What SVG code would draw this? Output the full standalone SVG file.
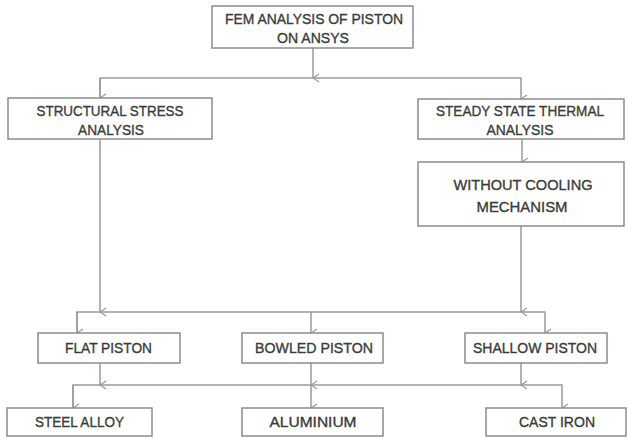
<svg xmlns="http://www.w3.org/2000/svg" width="628" height="438" viewBox="0 0 628 438">
<defs>
<style>
.box{fill:#fff;stroke:#8c8c8c;stroke-width:1.5}
.t{font-family:"Liberation Sans",Arial,sans-serif;font-size:15.5px;fill:#3a3a3a;stroke:#3a3a3a;stroke-width:0.35;text-anchor:middle}
.ln{fill:none;stroke:#9a9a9a;stroke-width:1.5}
</style>
<marker id="ah" viewBox="0 0 10 10" refX="5" refY="9" markerWidth="10" markerHeight="10" markerUnits="userSpaceOnUse" orient="auto-start-reverse">
<path d="M1,3 L5,9 L9,3" fill="none" stroke="#9a9a9a" stroke-width="1.3"/>
</marker>
</defs>
<rect width="628" height="438" fill="#fff"/>
<g id="connectors" class="ln">
<line x1="313" y1="48" x2="313" y2="78" marker-end="url(#ah)"/>
<polyline points="100,98 100,78 521,78 521,99" marker-end="url(#ah)"/>
<line x1="100" y1="78" x2="100" y2="98" marker-end="url(#ah)"/>
<line x1="522" y1="139" x2="522" y2="162" marker-end="url(#ah)"/>
<line x1="100" y1="139" x2="100" y2="312" marker-end="url(#ah)"/>
<line x1="521" y1="226" x2="521" y2="312" marker-end="url(#ah)"/>
<polyline points="77,333 77,312 545,312 545,333" marker-end="url(#ah)"/>
<line x1="77" y1="312" x2="77" y2="333" marker-end="url(#ah)"/>
<line x1="311" y1="312" x2="311" y2="333" marker-end="url(#ah)"/>
<line x1="100" y1="363" x2="100" y2="385" marker-end="url(#ah)"/>
<line x1="311" y1="363" x2="311" y2="385" marker-end="url(#ah)"/>
<line x1="521" y1="363" x2="521" y2="385" marker-end="url(#ah)"/>
<polyline points="73,408 73,385 562,385 562,408" marker-end="url(#ah)"/>
<line x1="73" y1="385" x2="73" y2="408" marker-end="url(#ah)"/>
<line x1="311" y1="385" x2="311" y2="408" marker-end="url(#ah)"/>
</g>
<g id="fem">
<rect class="box" x="212" y="6" width="201" height="42"/>
<text class="t" x="314" y="24" textLength="178" lengthAdjust="spacingAndGlyphs">FEM ANALYSIS OF PISTON</text>
<text class="t" x="313" y="43" textLength="72" lengthAdjust="spacingAndGlyphs">ON ANSYS</text>
</g>
<g id="structural">
<rect class="box" x="8" y="98" width="204" height="41"/>
<text class="t" x="110" y="116" textLength="147" lengthAdjust="spacingAndGlyphs">STRUCTURAL STRESS</text>
<text class="t" x="111" y="135" textLength="66" lengthAdjust="spacingAndGlyphs">ANALYSIS</text>
</g>
<g id="thermal">
<rect class="box" x="418" y="99" width="206" height="40"/>
<text class="t" x="520" y="116" textLength="168" lengthAdjust="spacingAndGlyphs">STEADY STATE THERMAL</text>
<text class="t" x="520" y="135" textLength="67" lengthAdjust="spacingAndGlyphs">ANALYSIS</text>
</g>
<g id="cooling">
<rect class="box" x="418" y="162" width="206" height="64"/>
<text class="t" x="523" y="190" textLength="139" lengthAdjust="spacingAndGlyphs">WITHOUT COOLING</text>
<text class="t" x="522" y="212" textLength="91" lengthAdjust="spacingAndGlyphs">MECHANISM</text>
</g>
<g id="flat">
<rect class="box" x="38" y="333" width="142" height="30"/>
<text class="t" x="108.5" y="353" textLength="87" lengthAdjust="spacingAndGlyphs">FLAT PISTON</text>
</g>
<g id="bowled">
<rect class="box" x="242" y="333" width="141" height="30"/>
<text class="t" x="314" y="353" textLength="118" lengthAdjust="spacingAndGlyphs">BOWLED PISTON</text>
</g>
<g id="shallow">
<rect class="box" x="465" y="333" width="142" height="30"/>
<text class="t" x="535" y="353" textLength="124" lengthAdjust="spacingAndGlyphs">SHALLOW PISTON</text>
</g>
<g id="steel">
<rect class="box" x="7" y="408" width="145" height="28"/>
<text class="t" x="79.5" y="427" textLength="89" lengthAdjust="spacingAndGlyphs">STEEL ALLOY</text>
</g>
<g id="aluminium">
<rect class="box" x="242" y="408" width="141" height="28"/>
<text class="t" x="313" y="427" textLength="87" lengthAdjust="spacingAndGlyphs">ALUMINIUM</text>
</g>
<g id="castiron">
<rect class="box" x="486" y="408" width="140" height="28"/>
<text class="t" x="557" y="427" textLength="76" lengthAdjust="spacingAndGlyphs">CAST IRON</text>
</g>
</svg>
